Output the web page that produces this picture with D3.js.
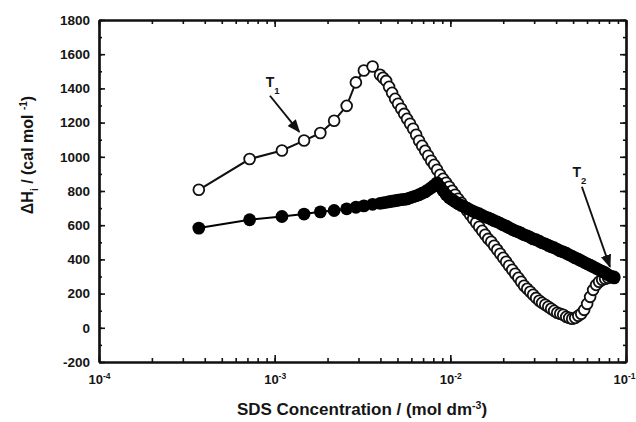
<!DOCTYPE html>
<html>
<head>
<meta charset="utf-8">
<script src="https://cdn.jsdelivr.net/npm/d3@7"></script>
<style>
  body { margin: 0; background: #fff; }
  svg text { font-family: Arial, "Liberation Sans", Helvetica, sans-serif; font-weight: bold; fill: #151515; }
</style>
</head>
<body>
<div id="chart"></div>
<script>
// SDS concentration (mol dm-3), one entry per injection
const conc = [
  0.00037, 0.00072, 0.00110, 0.00147, 0.00182, 0.00218, 0.00257, 0.00290, 0.00322, 0.00361,
  0.00398, 0.00414, 0.00431, 0.00448, 0.00466, 0.00485, 0.00504, 0.00525, 0.00546, 0.00567,
  0.00590, 0.00614, 0.00639, 0.00664, 0.00691, 0.00719, 0.00748, 0.00778, 0.00809, 0.00841,
  0.00875, 0.00910, 0.00947, 0.00985, 0.01024, 0.01065, 0.01108, 0.01153, 0.01199, 0.01247,
  0.01297, 0.01349, 0.01403, 0.01460, 0.01518, 0.01579, 0.01643, 0.01709, 0.01777, 0.01849,
  0.01923, 0.0200, 0.0208, 0.0216, 0.0225, 0.0234, 0.0244, 0.0253, 0.0263, 0.0274,
  0.0285, 0.0296, 0.0308, 0.0321, 0.0333, 0.0347, 0.0361, 0.0375, 0.0390, 0.0406,
  0.0422, 0.0439, 0.0457, 0.0475, 0.0494, 0.0514, 0.0535, 0.0556, 0.0578, 0.0601,
  0.0625, 0.0650, 0.0676, 0.0703, 0.0732, 0.0761, 0.0791, 0.0823, 0.0856
];

// open circles (upper curve), cal mol-1
const openDH = [
  807, 987, 1037, 1095, 1139, 1211, 1298, 1435, 1505, 1528,
  1480, 1462, 1444, 1409, 1374, 1339, 1310, 1281, 1251, 1222,
  1193, 1164, 1129, 1094, 1064, 1035, 1006, 977, 953, 924,
  895, 871, 848, 825, 801, 778, 754, 731, 708, 684,
  661, 637, 614, 591, 567, 544, 520, 503, 480, 456,
  433, 409, 386, 363, 339, 316, 292, 269, 246, 228,
  211, 193, 175, 158, 146, 135, 123, 111, 99, 88,
  82, 76, 64, 58, 53, 58, 70, 82, 105, 140,
  181, 222, 251, 269, 281, 287, 292, 298, 298
];

// filled circles (lower curve), cal mol-1
const filledDH = [
  583, 632, 651, 665, 678, 686, 696, 705, 713, 722,
  728, 731, 734, 737, 740, 743, 746, 749, 751, 754,
  760, 766, 772, 778, 787, 795, 807, 819, 833, 848,
  825, 801, 778, 760, 749, 737, 725, 716, 708, 699,
  690, 681, 673, 667, 658, 649, 643, 635, 626, 620,
  611, 602, 594, 585, 576, 567, 561, 553, 544, 538,
  529, 520, 515, 506, 497, 491, 482, 474, 468, 459,
  450, 444, 436, 427, 418, 409, 401, 392, 383, 374,
  366, 357, 348, 339, 330, 322, 310, 301, 292
];

const yTicks = [-200, 0, 200, 400, 600, 800, 1000, 1200, 1400, 1600, 1800];
const xDecades = [1e-4, 1e-3, 1e-2, 1e-1];
const xExponents = ['-4', '-3', '-2', '-1'];

// T1 / T2 labels and arrows, in data units
const notes = [
  { label: 'T', sub: '1', at: [0.00089, 1409], from: [0.00094, 1357], to: [0.00138, 1146] },
  { label: 'T', sub: '2', at: [0.0496, 883], from: [0.0561, 825], to: [0.0810, 357] }
];

const svgWidth = 636, svgHeight = 422;
const plotLeft = 99, plotRight = 626, plotTop = 20, plotBottom = 362;

const svg = d3.select('#chart').append('svg')
  .attr('width', svgWidth)
  .attr('height', svgHeight);

svg.append('defs').append('marker')
  .attr('id', 'head')
  .attr('viewBox', '0 0 10 10')
  .attr('refX', 9).attr('refY', 5)
  .attr('markerWidth', 7).attr('markerHeight', 7)
  .attr('orient', 'auto')
  .append('path')
  .attr('d', 'M0,1 L10,5 L0,9 z')
  .attr('fill', '#111');

const x = d3.scaleLog().domain([1e-4, 1e-1]).range([plotLeft, plotRight]);
const y = d3.scaleLinear().domain([-200, 1800]).range([plotBottom, plotTop]);

// axes: ticks point inward on all four sides
function styleAxis(g) {
  g.attr('font-size', null).attr('font-family', null);
  g.select('.domain').attr('stroke', '#111').attr('stroke-width', 2.2);
  g.selectAll('.tick line').attr('stroke', '#111').attr('stroke-width', 1.6);
}

// minor ticks first
svg.append('g').attr('transform', `translate(0,${plotBottom})`)
  .call(d3.axisBottom(x).tickValues(x.ticks()).tickSize(-4).tickSizeOuter(0).tickFormat(''))
  .call(styleAxis);
svg.append('g').attr('transform', `translate(0,${plotTop})`)
  .call(d3.axisTop(x).tickValues(x.ticks()).tickSize(-4).tickSizeOuter(0).tickFormat(''))
  .call(styleAxis);
svg.append('g').attr('transform', `translate(${plotLeft},0)`)
  .call(d3.axisLeft(y).ticks(20).tickSize(-3).tickSizeOuter(0).tickFormat(''))
  .call(styleAxis);
svg.append('g').attr('transform', `translate(${plotRight},0)`)
  .call(d3.axisRight(y).ticks(20).tickSize(-3).tickSizeOuter(0).tickFormat(''))
  .call(styleAxis);

// major ticks
const xAxis = svg.append('g').attr('transform', `translate(0,${plotBottom})`)
  .call(d3.axisBottom(x).tickValues(xDecades).tickSize(-7).tickSizeOuter(0).tickPadding(13))
  .call(styleAxis);
xAxis.selectAll('.tick text')
  .attr('font-size', 13)
  .each(function(d, i) {
    const t = d3.select(this).text('10');
    t.append('tspan').attr('dy', -5).attr('font-size', 8.5).text(xExponents[i]);
  });
// last label sits against the right edge of the picture
xAxis.selectAll('.tick text').filter((d, i) => i === xDecades.length - 1)
  .attr('text-anchor', 'end').attr('x', 9);

svg.append('g').attr('transform', `translate(0,${plotTop})`)
  .call(d3.axisTop(x).tickValues(xDecades).tickSize(-7).tickSizeOuter(0).tickFormat(''))
  .call(styleAxis);

svg.append('g').attr('transform', `translate(${plotLeft},0)`)
  .call(d3.axisLeft(y).tickValues(yTicks).tickSize(-6).tickSizeOuter(0).tickPadding(9).tickFormat(d => String(d)))
  .call(styleAxis)
  .selectAll('.tick text').attr('font-size', 13.5);

svg.append('g').attr('transform', `translate(${plotRight},0)`)
  .call(d3.axisRight(y).tickValues(yTicks).tickSize(-6).tickSizeOuter(0).tickFormat(''))
  .call(styleAxis);

// data
const pts = conc.map((c, i) => ({ c: c, open: openDH[i], filled: filledDH[i] }));

const openLine = d3.line().x(d => x(d.c)).y(d => y(d.open));
const filledLine = d3.line().x(d => x(d.c)).y(d => y(d.filled));

svg.append('path').datum(pts)
  .attr('d', openLine)
  .attr('fill', 'none').attr('stroke', '#111').attr('stroke-width', 2);

svg.append('g')
  .selectAll('circle')
  .data(pts)
  .join('circle')
  .attr('cx', d => x(d.c))
  .attr('cy', d => y(d.open))
  .attr('r', 5.4)
  .attr('fill', '#fff')
  .attr('stroke', '#111')
  .attr('stroke-width', 1.8);

svg.append('path').datum(pts)
  .attr('d', filledLine)
  .attr('fill', 'none').attr('stroke', '#000').attr('stroke-width', 2);

svg.append('g')
  .selectAll('circle')
  .data(pts)
  .join('circle')
  .attr('cx', d => x(d.c))
  .attr('cy', d => y(d.filled))
  .attr('r', 6.4)
  .attr('fill', '#000');

// annotations
notes.forEach(n => {
  const t = svg.append('text')
    .attr('x', x(n.at[0]))
    .attr('y', y(n.at[1]))
    .attr('font-size', 14)
    .text(n.label);
  t.append('tspan').attr('dy', 7).attr('font-size', 9.5).text(n.sub);

  svg.append('line')
    .attr('x1', x(n.from[0])).attr('y1', y(n.from[1]))
    .attr('x2', x(n.to[0])).attr('y2', y(n.to[1]))
    .attr('stroke', '#111').attr('stroke-width', 1.9)
    .attr('marker-end', 'url(#head)');
});

// axis titles
const xTitle = svg.append('text')
  .attr('x', 362)
  .attr('y', 415)
  .attr('text-anchor', 'middle')
  .attr('font-size', 17)
  .text('SDS Concentration / (mol dm');
xTitle.append('tspan').attr('dy', -6).attr('font-size', 10.5).text('-3');
xTitle.append('tspan').attr('dy', 6).text(')');

const yTitle = svg.append('text')
  .attr('transform', 'rotate(-90)')
  .attr('x', -155)
  .attr('y', 33)
  .attr('text-anchor', 'middle')
  .attr('font-size', 16)
  .text('\u0394H');
yTitle.append('tspan').attr('dy', 5).attr('font-size', 10).text('i');
yTitle.append('tspan').attr('dy', -5).text(' / (cal mol ');
yTitle.append('tspan').attr('dy', -6).attr('font-size', 10).text('-1');
yTitle.append('tspan').attr('dy', 6).text(')');
</script>
</body>
</html>
